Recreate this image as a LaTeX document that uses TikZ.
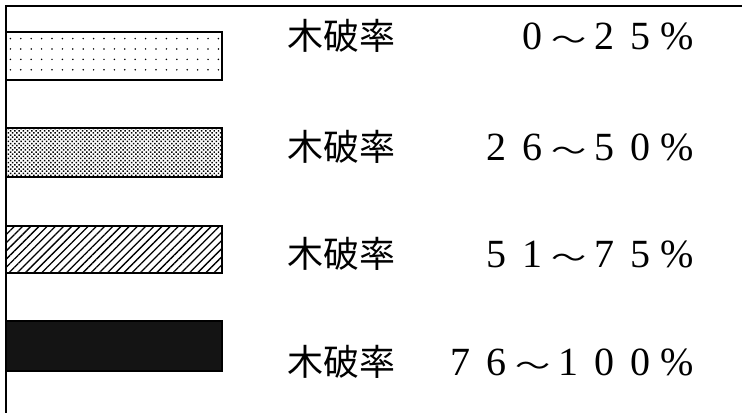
\documentclass[tikz,border=0pt]{standalone}
\usepackage{fontspec}
\usepackage{graphicx}
\newfontfamily\jpfont{Noto Sans CJK JP}
\newfontfamily\numfont{Liberation Serif}
\usetikzlibrary{patterns.meta}
\newcommand{\fwd}[1]{\makebox[36pt][c]{\numfont #1}}
\newcommand{\fwt}{\makebox[36pt][c]{\scalebox{1.35}[1]{\fontsize{26}{26}\selectfont\jpfont ～}}}
\begin{document}
\begin{tikzpicture}[x=1pt,y=1pt,
  bar/.style={draw=black, line width=1.6pt, minimum width=216pt, inner sep=0pt, outer sep=0pt, anchor=south west},
  lab/.style={anchor=west, inner sep=0pt, font=\fontsize{36}{36}\selectfont\jpfont},
  num/.style={anchor=east, inner sep=0pt, font=\fontsize{40}{40}\selectfont}
  ]
\useasboundingbox (0,0) rectangle (742,413);
\fill[white] (0,0) rectangle (742,413);
% frame
\coordinate (tl) at (6,407);
\coordinate (tr) at (742,407);
\coordinate (bl) at (6,0);
\draw[line width=2pt] (tr) -- (tl) -- (bl);
% bars
\node[bar, minimum height=48pt, pattern={Dots[distance=10.4pt, radius=0.85pt]}] (b1) at (6,333) {};
\node[bar, minimum height=49pt, pattern={Dots[distance=3pt, radius=1.05pt, angle=45]}] (b2) at (6,236) {};
\node[bar, minimum height=47pt, pattern={Lines[angle=45, distance=5.8pt, line width=1.3pt]}] (b3) at (6,140) {};
\node[bar, minimum height=50pt, fill=black!92] (b4) at (6,42) {};
% labels
\node[lab] (l1) at (287,377) {木破率};
\node[lab] (l2) at (287,266) {木破率};
\node[lab] (l3) at (287,159) {木破率};
\node[lab] (l4) at (287,51) {木破率};
\node[num] (n1) at (695,377) {\fwd{0}\fwt\fwd{2}\fwd{5}\fwd{\%}};
\node[num] (n2) at (695,266) {\fwd{2}\fwd{6}\fwt\fwd{5}\fwd{0}\fwd{\%}};
\node[num] (n3) at (695,159) {\fwd{5}\fwd{1}\fwt\fwd{7}\fwd{5}\fwd{\%}};
\node[num] (n4) at (695,51) {\fwd{7}\fwd{6}\fwt\fwd{1}\fwd{0}\fwd{0}\fwd{\%}};
\end{tikzpicture}
\end{document}
